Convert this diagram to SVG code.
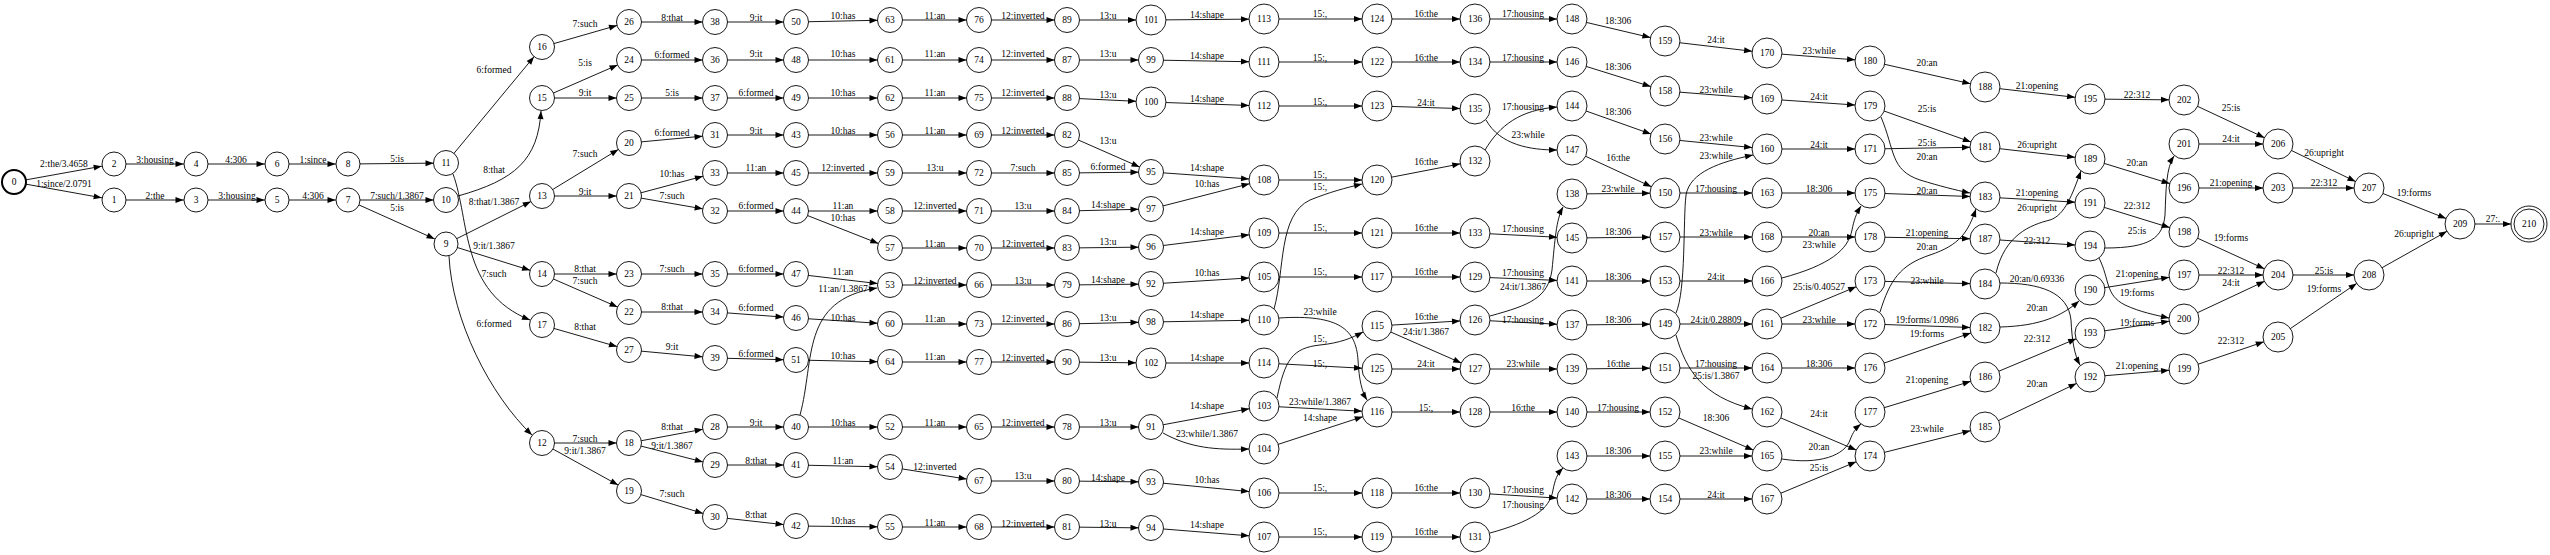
<svg xmlns="http://www.w3.org/2000/svg" width="2550" height="555" viewBox="0 0 2550 555">
<style>
.node circle{fill:#fff;stroke:#000;stroke-width:0.9}
.node text,.edge text{font-family:"Liberation Serif","Times New Roman",serif;font-size:9.5px;text-anchor:middle;fill:#000}
.edge path{fill:none;stroke:#000;stroke-width:0.9}
</style>
<defs>
<marker id="m0" markerUnits="userSpaceOnUse" markerWidth="8" markerHeight="6" refX="8" refY="3" orient="auto" overflow="visible"><path d="M0,0 L8,3 L0,6 z" fill="#000"/></marker>
<marker id="m12" markerUnits="userSpaceOnUse" markerWidth="8" markerHeight="6" refX="20.5" refY="3" orient="auto" overflow="visible"><path d="M0,0 L8,3 L0,6 z" fill="#000"/></marker>
<marker id="m15" markerUnits="userSpaceOnUse" markerWidth="8" markerHeight="6" refX="23" refY="3" orient="auto" overflow="visible"><path d="M0,0 L8,3 L0,6 z" fill="#000"/></marker>
<marker id="m18" markerUnits="userSpaceOnUse" markerWidth="8" markerHeight="6" refX="26" refY="3" orient="auto" overflow="visible"><path d="M0,0 L8,3 L0,6 z" fill="#000"/></marker>
</defs>
<rect width="2550" height="555" fill="#fff"/>
<g id="edges">
<g class="edge"><path d="M14 182 L114 164" marker-end="url(#m12)"/><text x="64" y="167">2:the/3.4658</text></g>
<g class="edge"><path d="M14 182 L114 200" marker-end="url(#m12)"/><text x="64" y="187">1:since/2.0791</text></g>
<g class="edge"><path d="M114 164 L196 164" marker-end="url(#m12)"/><text x="155" y="163">3:housing</text></g>
<g class="edge"><path d="M114 200 L196 200" marker-end="url(#m12)"/><text x="155" y="199">2:the</text></g>
<g class="edge"><path d="M196 164 L277 164" marker-end="url(#m12)"/><text x="236" y="163">4:306</text></g>
<g class="edge"><path d="M196 200 L277 200" marker-end="url(#m12)"/><text x="237" y="199">3:housing</text></g>
<g class="edge"><path d="M277 164 L348 164" marker-end="url(#m12)"/><text x="313" y="163">1:since</text></g>
<g class="edge"><path d="M277 200 L348 200" marker-end="url(#m12)"/><text x="313" y="199">4:306</text></g>
<g class="edge"><path d="M348 164 L446 163" marker-end="url(#m12)"/><text x="397" y="162">5:is</text></g>
<g class="edge"><path d="M348 200 L446 200" marker-end="url(#m12)"/><text x="397" y="199">7:such/1.3867</text></g>
<g class="edge"><path d="M348 200 L446 244" marker-end="url(#m12)"/><text x="397" y="211">5:is</text></g>
<g class="edge"><path d="M446 163 L542 47" marker-end="url(#m12)"/><text x="494" y="73">6:formed</text></g>
<g class="edge"><path d="M458 196 C515 180 538 160 541 111" marker-end="url(#m0)"/><text x="494" y="173">8:that</text></g>
<g class="edge"><path d="M446 244 L542 196" marker-end="url(#m12)"/><text x="494" y="205">8:that/1.3867</text></g>
<g class="edge"><path d="M446 244 L542 274" marker-end="url(#m12)"/><text x="494" y="249">9:it/1.3867</text></g>
<g class="edge"><path d="M453 174 C470 220 460 292 530 320" marker-end="url(#m0)"/><text x="494" y="277">7:such</text></g>
<g class="edge"><path d="M449 256 C452 320 490 395 532 435" marker-end="url(#m0)"/><text x="494" y="327">6:formed</text></g>
<g class="edge"><path d="M542 47 L629 22" marker-end="url(#m12)"/><text x="585" y="27">7:such</text></g>
<g class="edge"><path d="M542 98 L629 60" marker-end="url(#m12)"/><text x="585" y="66">5:is</text></g>
<g class="edge"><path d="M542 98 L629 98" marker-end="url(#m12)"/><text x="585" y="96">9:it</text></g>
<g class="edge"><path d="M542 196 L629 143" marker-end="url(#m12)"/><text x="585" y="157">7:such</text></g>
<g class="edge"><path d="M542 196 L629 196" marker-end="url(#m12)"/><text x="585" y="195">9:it</text></g>
<g class="edge"><path d="M542 274 L629 274" marker-end="url(#m12)"/><text x="585" y="272">8:that</text></g>
<g class="edge"><path d="M542 274 L629 312" marker-end="url(#m12)"/><text x="585" y="284">7:such</text></g>
<g class="edge"><path d="M542 325 L629 350" marker-end="url(#m12)"/><text x="585" y="330">8:that</text></g>
<g class="edge"><path d="M542 443 L629 443" marker-end="url(#m12)"/><text x="585" y="442">7:such</text></g>
<g class="edge"><path d="M542 443 L629 491" marker-end="url(#m12)"/><text x="585" y="454">9:it/1.3867</text></g>
<g class="edge"><path d="M629 22 L715 22" marker-end="url(#m12)"/><text x="672" y="21">8:that</text></g>
<g class="edge"><path d="M629 60 L715 60" marker-end="url(#m12)"/><text x="672" y="58">6:formed</text></g>
<g class="edge"><path d="M629 98 L715 98" marker-end="url(#m12)"/><text x="672" y="96">5:is</text></g>
<g class="edge"><path d="M629 143 L715 135" marker-end="url(#m12)"/><text x="672" y="136">6:formed</text></g>
<g class="edge"><path d="M629 196 L715 173" marker-end="url(#m12)"/><text x="672" y="177">10:has</text></g>
<g class="edge"><path d="M629 196 L715 211" marker-end="url(#m12)"/><text x="672" y="199">7:such</text></g>
<g class="edge"><path d="M629 274 L715 274" marker-end="url(#m12)"/><text x="672" y="272">7:such</text></g>
<g class="edge"><path d="M629 312 L715 312" marker-end="url(#m12)"/><text x="672" y="310">8:that</text></g>
<g class="edge"><path d="M629 350 L715 358" marker-end="url(#m12)"/><text x="672" y="350">9:it</text></g>
<g class="edge"><path d="M629 443 L715 427" marker-end="url(#m12)"/><text x="672" y="430">8:that</text></g>
<g class="edge"><path d="M629 443 L715 465" marker-end="url(#m12)"/><text x="672" y="449">9:it/1.3867</text></g>
<g class="edge"><path d="M629 491 L715 517" marker-end="url(#m12)"/><text x="672" y="497">7:such</text></g>
<g class="edge"><path d="M715 22 L796 22" marker-end="url(#m12)"/><text x="756" y="21">9:it</text></g>
<g class="edge"><path d="M715 60 L796 60" marker-end="url(#m12)"/><text x="756" y="57">9:it</text></g>
<g class="edge"><path d="M715 98 L796 98" marker-end="url(#m12)"/><text x="756" y="96">6:formed</text></g>
<g class="edge"><path d="M715 135 L796 135" marker-end="url(#m12)"/><text x="756" y="134">9:it</text></g>
<g class="edge"><path d="M715 173 L796 173" marker-end="url(#m12)"/><text x="756" y="171">11:an</text></g>
<g class="edge"><path d="M715 211 L796 211" marker-end="url(#m12)"/><text x="756" y="209">6:formed</text></g>
<g class="edge"><path d="M715 274 L796 274" marker-end="url(#m12)"/><text x="756" y="272">6:formed</text></g>
<g class="edge"><path d="M715 312 L796 318" marker-end="url(#m12)"/><text x="756" y="311">6:formed</text></g>
<g class="edge"><path d="M715 358 L796 360" marker-end="url(#m12)"/><text x="756" y="357">6:formed</text></g>
<g class="edge"><path d="M715 427 L796 427" marker-end="url(#m12)"/><text x="756" y="426">9:it</text></g>
<g class="edge"><path d="M715 465 L796 465" marker-end="url(#m12)"/><text x="756" y="464">8:that</text></g>
<g class="edge"><path d="M715 517 L796 526" marker-end="url(#m12)"/><text x="756" y="518">8:that</text></g>
<g class="edge"><path d="M796 22 L890 20" marker-end="url(#m12)"/><text x="843" y="19">10:has</text></g>
<g class="edge"><path d="M796 60 L890 60" marker-end="url(#m12)"/><text x="843" y="57">10:has</text></g>
<g class="edge"><path d="M796 98 L890 98" marker-end="url(#m12)"/><text x="843" y="96">10:has</text></g>
<g class="edge"><path d="M796 135 L890 135" marker-end="url(#m12)"/><text x="843" y="134">10:has</text></g>
<g class="edge"><path d="M796 173 L890 173" marker-end="url(#m12)"/><text x="843" y="171">12:inverted</text></g>
<g class="edge"><path d="M796 211 L890 211" marker-end="url(#m12)"/><text x="843" y="209">11:an</text></g>
<g class="edge"><path d="M796 211 L890 248" marker-end="url(#m12)"/><text x="843" y="221">10:has</text></g>
<g class="edge"><path d="M796 274 L890 285" marker-end="url(#m12)"/><text x="843" y="275">11:an</text></g>
<g class="edge"><path d="M800 415 C815 360 800 300 877 288" marker-end="url(#m0)"/><text x="843" y="292">11:an/1.3867</text></g>
<g class="edge"><path d="M796 318 L890 324" marker-end="url(#m12)"/><text x="843" y="321">10:has</text></g>
<g class="edge"><path d="M796 360 L890 362" marker-end="url(#m12)"/><text x="843" y="359">10:has</text></g>
<g class="edge"><path d="M796 427 L890 427" marker-end="url(#m12)"/><text x="843" y="426">10:has</text></g>
<g class="edge"><path d="M796 465 L890 467" marker-end="url(#m12)"/><text x="843" y="464">11:an</text></g>
<g class="edge"><path d="M796 526 L890 527" marker-end="url(#m12)"/><text x="843" y="524">10:has</text></g>
<g class="edge"><path d="M890 20 L979 20" marker-end="url(#m12)"/><text x="935" y="19">11:an</text></g>
<g class="edge"><path d="M890 60 L979 60" marker-end="url(#m12)"/><text x="935" y="57">11:an</text></g>
<g class="edge"><path d="M890 98 L979 98" marker-end="url(#m12)"/><text x="935" y="96">11:an</text></g>
<g class="edge"><path d="M890 135 L979 135" marker-end="url(#m12)"/><text x="935" y="134">11:an</text></g>
<g class="edge"><path d="M890 173 L979 173" marker-end="url(#m12)"/><text x="935" y="171">13:u</text></g>
<g class="edge"><path d="M890 211 L979 211" marker-end="url(#m12)"/><text x="935" y="209">12:inverted</text></g>
<g class="edge"><path d="M890 248 L979 248" marker-end="url(#m12)"/><text x="935" y="247">11:an</text></g>
<g class="edge"><path d="M890 285 L979 285" marker-end="url(#m12)"/><text x="935" y="284">12:inverted</text></g>
<g class="edge"><path d="M890 324 L979 324" marker-end="url(#m12)"/><text x="935" y="322">11:an</text></g>
<g class="edge"><path d="M890 362 L979 362" marker-end="url(#m12)"/><text x="935" y="360">11:an</text></g>
<g class="edge"><path d="M890 427 L979 427" marker-end="url(#m12)"/><text x="935" y="426">11:an</text></g>
<g class="edge"><path d="M890 467 L979 481" marker-end="url(#m12)"/><text x="935" y="470">12:inverted</text></g>
<g class="edge"><path d="M890 527 L979 527" marker-end="url(#m12)"/><text x="935" y="526">11:an</text></g>
<g class="edge"><path d="M979 20 L1067 20" marker-end="url(#m12)"/><text x="1023" y="19">12:inverted</text></g>
<g class="edge"><path d="M979 60 L1067 60" marker-end="url(#m12)"/><text x="1023" y="57">12:inverted</text></g>
<g class="edge"><path d="M979 98 L1067 98" marker-end="url(#m12)"/><text x="1023" y="96">12:inverted</text></g>
<g class="edge"><path d="M979 135 L1067 135" marker-end="url(#m12)"/><text x="1023" y="134">12:inverted</text></g>
<g class="edge"><path d="M979 173 L1067 173" marker-end="url(#m12)"/><text x="1023" y="171">7:such</text></g>
<g class="edge"><path d="M979 211 L1067 211" marker-end="url(#m12)"/><text x="1023" y="209">13:u</text></g>
<g class="edge"><path d="M979 248 L1067 248" marker-end="url(#m12)"/><text x="1023" y="247">12:inverted</text></g>
<g class="edge"><path d="M979 285 L1067 285" marker-end="url(#m12)"/><text x="1023" y="284">13:u</text></g>
<g class="edge"><path d="M979 324 L1067 324" marker-end="url(#m12)"/><text x="1023" y="322">12:inverted</text></g>
<g class="edge"><path d="M979 362 L1067 362" marker-end="url(#m12)"/><text x="1023" y="361">12:inverted</text></g>
<g class="edge"><path d="M979 427 L1067 427" marker-end="url(#m12)"/><text x="1023" y="426">12:inverted</text></g>
<g class="edge"><path d="M979 481 L1067 481" marker-end="url(#m12)"/><text x="1023" y="479">13:u</text></g>
<g class="edge"><path d="M979 527 L1067 527" marker-end="url(#m12)"/><text x="1023" y="527">12:inverted</text></g>
<g class="edge"><path d="M1067 20 L1151 20" marker-end="url(#m15)"/><text x="1108" y="19">13:u</text></g>
<g class="edge"><path d="M1067 60 L1151 60" marker-end="url(#m12)"/><text x="1108" y="57">13:u</text></g>
<g class="edge"><path d="M1067 98 L1151 102" marker-end="url(#m15)"/><text x="1108" y="98">13:u</text></g>
<g class="edge"><path d="M1067 135 L1151 172" marker-end="url(#m12)"/><text x="1108" y="144">13:u</text></g>
<g class="edge"><path d="M1067 173 L1151 172" marker-end="url(#m12)"/><text x="1108" y="170">6:formed</text></g>
<g class="edge"><path d="M1067 211 L1151 209" marker-end="url(#m12)"/><text x="1108" y="208">14:shape</text></g>
<g class="edge"><path d="M1067 248 L1151 247" marker-end="url(#m12)"/><text x="1108" y="245">13:u</text></g>
<g class="edge"><path d="M1067 285 L1151 284" marker-end="url(#m12)"/><text x="1108" y="283">14:shape</text></g>
<g class="edge"><path d="M1067 324 L1151 322" marker-end="url(#m12)"/><text x="1108" y="321">13:u</text></g>
<g class="edge"><path d="M1067 362 L1151 363" marker-end="url(#m15)"/><text x="1108" y="361">13:u</text></g>
<g class="edge"><path d="M1067 427 L1151 427" marker-end="url(#m12)"/><text x="1108" y="426">13:u</text></g>
<g class="edge"><path d="M1067 481 L1151 482" marker-end="url(#m12)"/><text x="1108" y="481">14:shape</text></g>
<g class="edge"><path d="M1067 527 L1151 528" marker-end="url(#m12)"/><text x="1108" y="527">13:u</text></g>
<g class="edge"><path d="M1151 20 L1264 19" marker-end="url(#m15)"/><text x="1207" y="18">14:shape</text></g>
<g class="edge"><path d="M1151 60 L1264 62" marker-end="url(#m15)"/><text x="1207" y="59">14:shape</text></g>
<g class="edge"><path d="M1151 102 L1264 106" marker-end="url(#m15)"/><text x="1207" y="102">14:shape</text></g>
<g class="edge"><path d="M1151 172 L1264 180" marker-end="url(#m15)"/><text x="1207" y="171">14:shape</text></g>
<g class="edge"><path d="M1151 209 L1264 180" marker-end="url(#m15)"/><text x="1207" y="187">10:has</text></g>
<g class="edge"><path d="M1151 247 L1264 233" marker-end="url(#m15)"/><text x="1207" y="235">14:shape</text></g>
<g class="edge"><path d="M1151 284 L1264 277" marker-end="url(#m15)"/><text x="1207" y="276">10:has</text></g>
<g class="edge"><path d="M1151 322 L1264 320" marker-end="url(#m15)"/><text x="1207" y="318">14:shape</text></g>
<g class="edge"><path d="M1151 363 L1264 363" marker-end="url(#m15)"/><text x="1207" y="361">14:shape</text></g>
<g class="edge"><path d="M1151 427 L1264 406" marker-end="url(#m15)"/><text x="1207" y="409">14:shape</text></g>
<g class="edge"><path d="M1163 433 C1190 448 1215 450 1249 449" marker-end="url(#m0)"/><text x="1207" y="437">23:while/1.3867</text></g>
<g class="edge"><path d="M1151 482 L1264 493" marker-end="url(#m15)"/><text x="1207" y="483">10:has</text></g>
<g class="edge"><path d="M1151 528 L1264 537" marker-end="url(#m15)"/><text x="1207" y="528">14:shape</text></g>
<g class="edge"><path d="M1264 19 L1377 19" marker-end="url(#m15)"/><text x="1320" y="17">15:,</text></g>
<g class="edge"><path d="M1264 62 L1377 62" marker-end="url(#m15)"/><text x="1320" y="61">15:,</text></g>
<g class="edge"><path d="M1264 106 L1377 106" marker-end="url(#m15)"/><text x="1320" y="105">15:,</text></g>
<g class="edge"><path d="M1264 180 L1377 180" marker-end="url(#m15)"/><text x="1320" y="178">15:,</text></g>
<g class="edge"><path d="M1274 309 C1285 270 1278 215 1310 200 C1330 192 1345 188 1362 184" marker-end="url(#m0)"/><text x="1320" y="190">15:,</text></g>
<g class="edge"><path d="M1264 233 L1377 233" marker-end="url(#m15)"/><text x="1320" y="231">15:,</text></g>
<g class="edge"><path d="M1264 277 L1377 277" marker-end="url(#m15)"/><text x="1320" y="275">15:,</text></g>
<g class="edge"><path d="M1279 318 C1340 314 1356 330 1358 360 C1359 380 1362 392 1367 400" marker-end="url(#m0)"/><text x="1320" y="315">23:while</text></g>
<g class="edge"><path d="M1277 398 C1285 360 1292 348 1320 345 C1340 343 1352 338 1363 332" marker-end="url(#m0)"/><text x="1320" y="342">15:,</text></g>
<g class="edge"><path d="M1264 363 L1377 369" marker-end="url(#m15)"/><text x="1320" y="367">15:,</text></g>
<g class="edge"><path d="M1264 406 L1377 412" marker-end="url(#m15)"/><text x="1320" y="405">23:while/1.3867</text></g>
<g class="edge"><path d="M1264 449 L1377 412" marker-end="url(#m15)"/><text x="1320" y="421">14:shape</text></g>
<g class="edge"><path d="M1264 493 L1377 493" marker-end="url(#m15)"/><text x="1320" y="491">15:,</text></g>
<g class="edge"><path d="M1264 537 L1377 537" marker-end="url(#m15)"/><text x="1320" y="535">15:,</text></g>
<g class="edge"><path d="M1377 19 L1475 19" marker-end="url(#m15)"/><text x="1426" y="17">16:the</text></g>
<g class="edge"><path d="M1377 62 L1475 62" marker-end="url(#m15)"/><text x="1426" y="61">16:the</text></g>
<g class="edge"><path d="M1377 106 L1475 109" marker-end="url(#m15)"/><text x="1426" y="106">24:it</text></g>
<g class="edge"><path d="M1377 180 L1475 161" marker-end="url(#m15)"/><text x="1426" y="165">16:the</text></g>
<g class="edge"><path d="M1377 233 L1475 233" marker-end="url(#m15)"/><text x="1426" y="231">16:the</text></g>
<g class="edge"><path d="M1377 277 L1475 277" marker-end="url(#m15)"/><text x="1426" y="275">16:the</text></g>
<g class="edge"><path d="M1377 326 L1475 320" marker-end="url(#m15)"/><text x="1426" y="320">16:the</text></g>
<g class="edge"><path d="M1377 326 L1475 369" marker-end="url(#m15)"/><text x="1426" y="335">24:it/1.3867</text></g>
<g class="edge"><path d="M1377 369 L1475 369" marker-end="url(#m15)"/><text x="1426" y="367">24:it</text></g>
<g class="edge"><path d="M1377 412 L1475 412" marker-end="url(#m15)"/><text x="1426" y="411">15:,</text></g>
<g class="edge"><path d="M1377 493 L1475 493" marker-end="url(#m15)"/><text x="1426" y="491">16:the</text></g>
<g class="edge"><path d="M1377 537 L1475 537" marker-end="url(#m15)"/><text x="1426" y="535">16:the</text></g>
<g class="edge"><path d="M1475 19 L1572 19" marker-end="url(#m15)"/><text x="1523" y="17">17:housing</text></g>
<g class="edge"><path d="M1475 62 L1572 62" marker-end="url(#m15)"/><text x="1523" y="61">17:housing</text></g>
<g class="edge"><path d="M1485 150 C1500 125 1520 110 1557 107" marker-end="url(#m0)"/><text x="1523" y="110">17:housing</text></g>
<g class="edge"><path d="M1486 120 C1500 145 1530 150 1557 150" marker-end="url(#m0)"/><text x="1528" y="138">23:while</text></g>
<g class="edge"><path d="M1475 233 L1572 238" marker-end="url(#m15)"/><text x="1523" y="232">17:housing</text></g>
<g class="edge"><path d="M1475 277 L1572 281" marker-end="url(#m15)"/><text x="1523" y="276">17:housing</text></g>
<g class="edge"><path d="M1490 316 C1530 305 1548 298 1552 270 C1555 240 1556 220 1563 207" marker-end="url(#m0)"/><text x="1523" y="290">24:it/1.3867</text></g>
<g class="edge"><path d="M1475 320 L1572 325" marker-end="url(#m15)"/><text x="1523" y="323">17:housing</text></g>
<g class="edge"><path d="M1475 369 L1572 369" marker-end="url(#m15)"/><text x="1523" y="367">23:while</text></g>
<g class="edge"><path d="M1475 412 L1572 412" marker-end="url(#m15)"/><text x="1523" y="411">16:the</text></g>
<g class="edge"><path d="M1475 493 L1572 499" marker-end="url(#m15)"/><text x="1523" y="493">17:housing</text></g>
<g class="edge"><path d="M1490 533 C1530 522 1550 510 1553 490 C1555 480 1557 474 1563 468" marker-end="url(#m0)"/><text x="1523" y="508">17:housing</text></g>
<g class="edge"><path d="M1572 19 L1665 41" marker-end="url(#m15)"/><text x="1618" y="24">18:306</text></g>
<g class="edge"><path d="M1572 62 L1665 91" marker-end="url(#m15)"/><text x="1618" y="70">18:306</text></g>
<g class="edge"><path d="M1572 106 L1665 139" marker-end="url(#m15)"/><text x="1618" y="115">18:306</text></g>
<g class="edge"><path d="M1572 150 L1665 193" marker-end="url(#m15)"/><text x="1618" y="161">16:the</text></g>
<g class="edge"><path d="M1572 194 L1665 193" marker-end="url(#m15)"/><text x="1618" y="192">23:while</text></g>
<g class="edge"><path d="M1572 238 L1665 237" marker-end="url(#m15)"/><text x="1618" y="235">18:306</text></g>
<g class="edge"><path d="M1572 281 L1665 281" marker-end="url(#m15)"/><text x="1618" y="280">18:306</text></g>
<g class="edge"><path d="M1572 325 L1665 324" marker-end="url(#m15)"/><text x="1618" y="323">18:306</text></g>
<g class="edge"><path d="M1572 369 L1665 368" marker-end="url(#m15)"/><text x="1618" y="367">16:the</text></g>
<g class="edge"><path d="M1572 412 L1665 412" marker-end="url(#m15)"/><text x="1618" y="411">17:housing</text></g>
<g class="edge"><path d="M1572 456 L1665 456" marker-end="url(#m15)"/><text x="1618" y="454">18:306</text></g>
<g class="edge"><path d="M1572 499 L1665 499" marker-end="url(#m15)"/><text x="1618" y="498">18:306</text></g>
<g class="edge"><path d="M1665 41 L1767 53" marker-end="url(#m15)"/><text x="1716" y="43">24:it</text></g>
<g class="edge"><path d="M1665 91 L1767 99" marker-end="url(#m15)"/><text x="1716" y="93">23:while</text></g>
<g class="edge"><path d="M1665 139 L1767 149" marker-end="url(#m15)"/><text x="1716" y="141">23:while</text></g>
<g class="edge"><path d="M1676 313 C1686 290 1683 220 1686 195 C1690 172 1720 162 1753 155" marker-end="url(#m0)"/><text x="1716" y="159">23:while</text></g>
<g class="edge"><path d="M1665 193 L1767 193" marker-end="url(#m15)"/><text x="1716" y="192">17:housing</text></g>
<g class="edge"><path d="M1665 237 L1767 237" marker-end="url(#m15)"/><text x="1716" y="236">23:while</text></g>
<g class="edge"><path d="M1665 281 L1767 281" marker-end="url(#m15)"/><text x="1716" y="280">24:it</text></g>
<g class="edge"><path d="M1665 324 L1767 324" marker-end="url(#m15)"/><text x="1716" y="323">24:it/0.28809</text></g>
<g class="edge"><path d="M1665 368 L1767 368" marker-end="url(#m15)"/><text x="1716" y="367">17:housing</text></g>
<g class="edge"><path d="M1676 335 C1686 370 1702 396 1752 409" marker-end="url(#m0)"/><text x="1716" y="379">25:is/1.3867</text></g>
<g class="edge"><path d="M1665 412 L1767 456" marker-end="url(#m15)"/><text x="1716" y="421">18:306</text></g>
<g class="edge"><path d="M1665 456 L1767 456" marker-end="url(#m15)"/><text x="1716" y="454">23:while</text></g>
<g class="edge"><path d="M1665 499 L1767 499" marker-end="url(#m15)"/><text x="1716" y="498">24:it</text></g>
<g class="edge"><path d="M1767 53 L1870 61" marker-end="url(#m15)"/><text x="1819" y="54">23:while</text></g>
<g class="edge"><path d="M1767 99 L1870 106" marker-end="url(#m15)"/><text x="1819" y="100">24:it</text></g>
<g class="edge"><path d="M1767 149 L1870 149" marker-end="url(#m15)"/><text x="1819" y="148">24:it</text></g>
<g class="edge"><path d="M1767 193 L1870 193" marker-end="url(#m15)"/><text x="1819" y="192">18:306</text></g>
<g class="edge"><path d="M1767 237 L1870 237" marker-end="url(#m15)"/><text x="1819" y="236">20:an</text></g>
<g class="edge"><path d="M1782 278 C1830 265 1848 250 1852 230 C1854 220 1856 214 1861 206" marker-end="url(#m0)"/><text x="1819" y="248">23:while</text></g>
<g class="edge"><path d="M1767 324 L1870 281" marker-end="url(#m15)"/><text x="1819" y="290">25:is/0.40527</text></g>
<g class="edge"><path d="M1767 324 L1870 324" marker-end="url(#m15)"/><text x="1819" y="323">23:while</text></g>
<g class="edge"><path d="M1767 368 L1870 368" marker-end="url(#m15)"/><text x="1819" y="367">18:306</text></g>
<g class="edge"><path d="M1767 412 L1870 456" marker-end="url(#m15)"/><text x="1819" y="417">24:it</text></g>
<g class="edge"><path d="M1782 459 C1820 465 1845 455 1850 440 C1853 432 1856 428 1861 424" marker-end="url(#m0)"/><text x="1819" y="450">20:an</text></g>
<g class="edge"><path d="M1767 499 L1870 456" marker-end="url(#m15)"/><text x="1819" y="471">25:is</text></g>
<g class="edge"><path d="M1870 61 L1985 87" marker-end="url(#m15)"/><text x="1927" y="66">20:an</text></g>
<g class="edge"><path d="M1870 106 L1985 147" marker-end="url(#m15)"/><text x="1927" y="112">25:is</text></g>
<g class="edge"><path d="M1870 149 L1985 147" marker-end="url(#m15)"/><text x="1927" y="146">25:is</text></g>
<g class="edge"><path d="M1881 117 C1895 150 1890 170 1920 180 C1940 186 1955 190 1970 193" marker-end="url(#m0)"/><text x="1927" y="160">20:an</text></g>
<g class="edge"><path d="M1870 193 L1985 197" marker-end="url(#m15)"/><text x="1927" y="194">20:an</text></g>
<g class="edge"><path d="M1870 237 L1985 239" marker-end="url(#m15)"/><text x="1927" y="236">21:opening</text></g>
<g class="edge"><path d="M1880 312 C1890 280 1900 265 1930 255 C1960 245 1968 232 1976 209" marker-end="url(#m0)"/><text x="1927" y="250">20:an</text></g>
<g class="edge"><path d="M1870 281 L1985 284" marker-end="url(#m15)"/><text x="1927" y="284">23:while</text></g>
<g class="edge"><path d="M1870 324 L1985 328" marker-end="url(#m15)"/><text x="1927" y="323">19:forms/1.0986</text></g>
<g class="edge"><path d="M1870 368 L1985 328" marker-end="url(#m15)"/><text x="1927" y="337">19:forms</text></g>
<g class="edge"><path d="M1870 412 L1985 377" marker-end="url(#m15)"/><text x="1927" y="383">21:opening</text></g>
<g class="edge"><path d="M1870 456 L1985 427" marker-end="url(#m15)"/><text x="1927" y="432">23:while</text></g>
<g class="edge"><path d="M1985 87 L2090 99" marker-end="url(#m15)"/><text x="2037" y="89">21:opening</text></g>
<g class="edge"><path d="M1985 147 L2090 159" marker-end="url(#m15)"/><text x="2037" y="148">26:upright</text></g>
<g class="edge"><path d="M1985 197 L2090 203" marker-end="url(#m15)"/><text x="2037" y="196">21:opening</text></g>
<g class="edge"><path d="M1996 273 C2005 235 2030 225 2050 220 C2065 215 2072 195 2081 171" marker-end="url(#m0)"/><text x="2037" y="211">26:upright</text></g>
<g class="edge"><path d="M1985 239 L2090 246" marker-end="url(#m15)"/><text x="2037" y="244">22:312</text></g>
<g class="edge"><path d="M2000 283 C2040 283 2068 292 2071 320 C2072 340 2074 354 2080 365" marker-end="url(#m0)"/><text x="2037" y="282">20:an/0.69336</text></g>
<g class="edge"><path d="M2000 327 C2040 326 2062 316 2079 301" marker-end="url(#m0)"/><text x="2037" y="311">20:an</text></g>
<g class="edge"><path d="M1985 377 L2090 333" marker-end="url(#m15)"/><text x="2037" y="342">22:312</text></g>
<g class="edge"><path d="M1985 427 L2090 377" marker-end="url(#m15)"/><text x="2037" y="387">20:an</text></g>
<g class="edge"><path d="M2090 99 L2184 100" marker-end="url(#m15)"/><text x="2137" y="98">22:312</text></g>
<g class="edge"><path d="M2090 159 L2184 188" marker-end="url(#m15)"/><text x="2137" y="166">20:an</text></g>
<g class="edge"><path d="M2090 203 L2184 232" marker-end="url(#m15)"/><text x="2137" y="209">22:312</text></g>
<g class="edge"><path d="M2105 248 C2150 248 2163 238 2165 215 C2166 190 2166 168 2174 156" marker-end="url(#m0)"/><text x="2137" y="234">25:is</text></g>
<g class="edge"><path d="M2090 290 L2184 275" marker-end="url(#m15)"/><text x="2137" y="277">21:opening</text></g>
<g class="edge"><path d="M2099 258 C2110 280 2105 295 2125 305 C2140 312 2155 315 2169 318" marker-end="url(#m0)"/><text x="2137" y="296">19:forms</text></g>
<g class="edge"><path d="M2090 333 L2184 319" marker-end="url(#m15)"/><text x="2137" y="326">19:forms</text></g>
<g class="edge"><path d="M2090 377 L2184 369" marker-end="url(#m15)"/><text x="2137" y="369">21:opening</text></g>
<g class="edge"><path d="M2184 100 L2278 144" marker-end="url(#m15)"/><text x="2231" y="111">25:is</text></g>
<g class="edge"><path d="M2184 144 L2278 144" marker-end="url(#m15)"/><text x="2231" y="142">24:it</text></g>
<g class="edge"><path d="M2184 188 L2278 188" marker-end="url(#m15)"/><text x="2231" y="186">21:opening</text></g>
<g class="edge"><path d="M2184 232 L2278 275" marker-end="url(#m15)"/><text x="2231" y="241">19:forms</text></g>
<g class="edge"><path d="M2184 275 L2278 275" marker-end="url(#m15)"/><text x="2231" y="274">22:312</text></g>
<g class="edge"><path d="M2184 319 L2278 275" marker-end="url(#m15)"/><text x="2231" y="286">24:it</text></g>
<g class="edge"><path d="M2184 369 L2278 337" marker-end="url(#m15)"/><text x="2231" y="344">22:312</text></g>
<g class="edge"><path d="M2278 144 L2369 188" marker-end="url(#m15)"/><text x="2324" y="156">26:upright</text></g>
<g class="edge"><path d="M2278 188 L2369 188" marker-end="url(#m15)"/><text x="2324" y="186">22:312</text></g>
<g class="edge"><path d="M2278 275 L2369 275" marker-end="url(#m15)"/><text x="2324" y="274">25:is</text></g>
<g class="edge"><path d="M2278 337 L2369 275" marker-end="url(#m15)"/><text x="2324" y="292">19:forms</text></g>
<g class="edge"><path d="M2369 188 L2460 224" marker-end="url(#m15)"/><text x="2414" y="196">19:forms</text></g>
<g class="edge"><path d="M2369 275 L2460 224" marker-end="url(#m15)"/><text x="2414" y="237">26:upright</text></g>
<g class="edge"><path d="M2460 224 L2529 224" marker-end="url(#m18)"/><text x="2493" y="222">27:.</text></g>
</g>
<g id="nodes">
<g id="n0" class="node"><circle cx="14" cy="182" r="12" style="stroke-width:2"/><text x="14" y="185.3">0</text></g>
<g id="n1" class="node"><circle cx="114" cy="200" r="12"/><text x="114" y="203.3">1</text></g>
<g id="n2" class="node"><circle cx="114" cy="164" r="12"/><text x="114" y="167.3">2</text></g>
<g id="n3" class="node"><circle cx="196" cy="200" r="12"/><text x="196" y="203.3">3</text></g>
<g id="n4" class="node"><circle cx="196" cy="164" r="12"/><text x="196" y="167.3">4</text></g>
<g id="n5" class="node"><circle cx="277" cy="200" r="12"/><text x="277" y="203.3">5</text></g>
<g id="n6" class="node"><circle cx="277" cy="164" r="12"/><text x="277" y="167.3">6</text></g>
<g id="n7" class="node"><circle cx="348" cy="200" r="12"/><text x="348" y="203.3">7</text></g>
<g id="n8" class="node"><circle cx="348" cy="164" r="12"/><text x="348" y="167.3">8</text></g>
<g id="n9" class="node"><circle cx="446" cy="244" r="12"/><text x="446" y="247.3">9</text></g>
<g id="n10" class="node"><circle cx="446" cy="200" r="12.5"/><text x="446" y="203.3">10</text></g>
<g id="n11" class="node"><circle cx="446" cy="163" r="12.5"/><text x="446" y="166.3">11</text></g>
<g id="n12" class="node"><circle cx="542" cy="443" r="12.5"/><text x="542" y="446.3">12</text></g>
<g id="n13" class="node"><circle cx="542" cy="196" r="12.5"/><text x="542" y="199.3">13</text></g>
<g id="n14" class="node"><circle cx="542" cy="274" r="12.5"/><text x="542" y="277.3">14</text></g>
<g id="n15" class="node"><circle cx="542" cy="98" r="12.5"/><text x="542" y="101.3">15</text></g>
<g id="n16" class="node"><circle cx="542" cy="47" r="12.5"/><text x="542" y="50.3">16</text></g>
<g id="n17" class="node"><circle cx="542" cy="325" r="12.5"/><text x="542" y="328.3">17</text></g>
<g id="n18" class="node"><circle cx="629" cy="443" r="12.5"/><text x="629" y="446.3">18</text></g>
<g id="n19" class="node"><circle cx="629" cy="491" r="12.5"/><text x="629" y="494.3">19</text></g>
<g id="n20" class="node"><circle cx="629" cy="143" r="12.5"/><text x="629" y="146.3">20</text></g>
<g id="n21" class="node"><circle cx="629" cy="196" r="12.5"/><text x="629" y="199.3">21</text></g>
<g id="n22" class="node"><circle cx="629" cy="312" r="12.5"/><text x="629" y="315.3">22</text></g>
<g id="n23" class="node"><circle cx="629" cy="274" r="12.5"/><text x="629" y="277.3">23</text></g>
<g id="n24" class="node"><circle cx="629" cy="60" r="12.5"/><text x="629" y="63.3">24</text></g>
<g id="n25" class="node"><circle cx="629" cy="98" r="12.5"/><text x="629" y="101.3">25</text></g>
<g id="n26" class="node"><circle cx="629" cy="22" r="12.5"/><text x="629" y="25.3">26</text></g>
<g id="n27" class="node"><circle cx="629" cy="350" r="12.5"/><text x="629" y="353.3">27</text></g>
<g id="n28" class="node"><circle cx="715" cy="427" r="12.5"/><text x="715" y="430.3">28</text></g>
<g id="n29" class="node"><circle cx="715" cy="465" r="12.5"/><text x="715" y="468.3">29</text></g>
<g id="n30" class="node"><circle cx="715" cy="517" r="12.5"/><text x="715" y="520.3">30</text></g>
<g id="n31" class="node"><circle cx="715" cy="135" r="12.5"/><text x="715" y="138.3">31</text></g>
<g id="n32" class="node"><circle cx="715" cy="211" r="12.5"/><text x="715" y="214.3">32</text></g>
<g id="n33" class="node"><circle cx="715" cy="173" r="12.5"/><text x="715" y="176.3">33</text></g>
<g id="n34" class="node"><circle cx="715" cy="312" r="12.5"/><text x="715" y="315.3">34</text></g>
<g id="n35" class="node"><circle cx="715" cy="274" r="12.5"/><text x="715" y="277.3">35</text></g>
<g id="n36" class="node"><circle cx="715" cy="60" r="12.5"/><text x="715" y="63.3">36</text></g>
<g id="n37" class="node"><circle cx="715" cy="98" r="12.5"/><text x="715" y="101.3">37</text></g>
<g id="n38" class="node"><circle cx="715" cy="22" r="12.5"/><text x="715" y="25.3">38</text></g>
<g id="n39" class="node"><circle cx="715" cy="358" r="12.5"/><text x="715" y="361.3">39</text></g>
<g id="n40" class="node"><circle cx="796" cy="427" r="12.5"/><text x="796" y="430.3">40</text></g>
<g id="n41" class="node"><circle cx="796" cy="465" r="12.5"/><text x="796" y="468.3">41</text></g>
<g id="n42" class="node"><circle cx="796" cy="526" r="12.5"/><text x="796" y="529.3">42</text></g>
<g id="n43" class="node"><circle cx="796" cy="135" r="12.5"/><text x="796" y="138.3">43</text></g>
<g id="n44" class="node"><circle cx="796" cy="211" r="12.5"/><text x="796" y="214.3">44</text></g>
<g id="n45" class="node"><circle cx="796" cy="173" r="12.5"/><text x="796" y="176.3">45</text></g>
<g id="n46" class="node"><circle cx="796" cy="318" r="12.5"/><text x="796" y="321.3">46</text></g>
<g id="n47" class="node"><circle cx="796" cy="274" r="12.5"/><text x="796" y="277.3">47</text></g>
<g id="n48" class="node"><circle cx="796" cy="60" r="12.5"/><text x="796" y="63.3">48</text></g>
<g id="n49" class="node"><circle cx="796" cy="98" r="12.5"/><text x="796" y="101.3">49</text></g>
<g id="n50" class="node"><circle cx="796" cy="22" r="12.5"/><text x="796" y="25.3">50</text></g>
<g id="n51" class="node"><circle cx="796" cy="360" r="12.5"/><text x="796" y="363.3">51</text></g>
<g id="n52" class="node"><circle cx="890" cy="427" r="12.5"/><text x="890" y="430.3">52</text></g>
<g id="n53" class="node"><circle cx="890" cy="285" r="12.5"/><text x="890" y="288.3">53</text></g>
<g id="n54" class="node"><circle cx="890" cy="467" r="12.5"/><text x="890" y="470.3">54</text></g>
<g id="n55" class="node"><circle cx="890" cy="527" r="12.5"/><text x="890" y="530.3">55</text></g>
<g id="n56" class="node"><circle cx="890" cy="135" r="12.5"/><text x="890" y="138.3">56</text></g>
<g id="n57" class="node"><circle cx="890" cy="248" r="12.5"/><text x="890" y="251.3">57</text></g>
<g id="n58" class="node"><circle cx="890" cy="211" r="12.5"/><text x="890" y="214.3">58</text></g>
<g id="n59" class="node"><circle cx="890" cy="173" r="12.5"/><text x="890" y="176.3">59</text></g>
<g id="n60" class="node"><circle cx="890" cy="324" r="12.5"/><text x="890" y="327.3">60</text></g>
<g id="n61" class="node"><circle cx="890" cy="60" r="12.5"/><text x="890" y="63.3">61</text></g>
<g id="n62" class="node"><circle cx="890" cy="98" r="12.5"/><text x="890" y="101.3">62</text></g>
<g id="n63" class="node"><circle cx="890" cy="20" r="12.5"/><text x="890" y="23.3">63</text></g>
<g id="n64" class="node"><circle cx="890" cy="362" r="12.5"/><text x="890" y="365.3">64</text></g>
<g id="n65" class="node"><circle cx="979" cy="427" r="12.5"/><text x="979" y="430.3">65</text></g>
<g id="n66" class="node"><circle cx="979" cy="285" r="12.5"/><text x="979" y="288.3">66</text></g>
<g id="n67" class="node"><circle cx="979" cy="481" r="12.5"/><text x="979" y="484.3">67</text></g>
<g id="n68" class="node"><circle cx="979" cy="527" r="12.5"/><text x="979" y="530.3">68</text></g>
<g id="n69" class="node"><circle cx="979" cy="135" r="12.5"/><text x="979" y="138.3">69</text></g>
<g id="n70" class="node"><circle cx="979" cy="248" r="12.5"/><text x="979" y="251.3">70</text></g>
<g id="n71" class="node"><circle cx="979" cy="211" r="12.5"/><text x="979" y="214.3">71</text></g>
<g id="n72" class="node"><circle cx="979" cy="173" r="12.5"/><text x="979" y="176.3">72</text></g>
<g id="n73" class="node"><circle cx="979" cy="324" r="12.5"/><text x="979" y="327.3">73</text></g>
<g id="n74" class="node"><circle cx="979" cy="60" r="12.5"/><text x="979" y="63.3">74</text></g>
<g id="n75" class="node"><circle cx="979" cy="98" r="12.5"/><text x="979" y="101.3">75</text></g>
<g id="n76" class="node"><circle cx="979" cy="20" r="12.5"/><text x="979" y="23.3">76</text></g>
<g id="n77" class="node"><circle cx="979" cy="362" r="12.5"/><text x="979" y="365.3">77</text></g>
<g id="n78" class="node"><circle cx="1067" cy="427" r="12.5"/><text x="1067" y="430.3">78</text></g>
<g id="n79" class="node"><circle cx="1067" cy="285" r="12.5"/><text x="1067" y="288.3">79</text></g>
<g id="n80" class="node"><circle cx="1067" cy="481" r="12.5"/><text x="1067" y="484.3">80</text></g>
<g id="n81" class="node"><circle cx="1067" cy="527" r="12.5"/><text x="1067" y="530.3">81</text></g>
<g id="n82" class="node"><circle cx="1067" cy="135" r="12.5"/><text x="1067" y="138.3">82</text></g>
<g id="n83" class="node"><circle cx="1067" cy="248" r="12.5"/><text x="1067" y="251.3">83</text></g>
<g id="n84" class="node"><circle cx="1067" cy="211" r="12.5"/><text x="1067" y="214.3">84</text></g>
<g id="n85" class="node"><circle cx="1067" cy="173" r="12.5"/><text x="1067" y="176.3">85</text></g>
<g id="n86" class="node"><circle cx="1067" cy="324" r="12.5"/><text x="1067" y="327.3">86</text></g>
<g id="n87" class="node"><circle cx="1067" cy="60" r="12.5"/><text x="1067" y="63.3">87</text></g>
<g id="n88" class="node"><circle cx="1067" cy="98" r="12.5"/><text x="1067" y="101.3">88</text></g>
<g id="n89" class="node"><circle cx="1067" cy="20" r="12.5"/><text x="1067" y="23.3">89</text></g>
<g id="n90" class="node"><circle cx="1067" cy="362" r="12.5"/><text x="1067" y="365.3">90</text></g>
<g id="n91" class="node"><circle cx="1151" cy="427" r="12.5"/><text x="1151" y="430.3">91</text></g>
<g id="n92" class="node"><circle cx="1151" cy="284" r="12.5"/><text x="1151" y="287.3">92</text></g>
<g id="n93" class="node"><circle cx="1151" cy="482" r="12.5"/><text x="1151" y="485.3">93</text></g>
<g id="n94" class="node"><circle cx="1151" cy="528" r="12.5"/><text x="1151" y="531.3">94</text></g>
<g id="n95" class="node"><circle cx="1151" cy="172" r="12.5"/><text x="1151" y="175.3">95</text></g>
<g id="n96" class="node"><circle cx="1151" cy="247" r="12.5"/><text x="1151" y="250.3">96</text></g>
<g id="n97" class="node"><circle cx="1151" cy="209" r="12.5"/><text x="1151" y="212.3">97</text></g>
<g id="n98" class="node"><circle cx="1151" cy="322" r="12.5"/><text x="1151" y="325.3">98</text></g>
<g id="n99" class="node"><circle cx="1151" cy="60" r="12.5"/><text x="1151" y="63.3">99</text></g>
<g id="n100" class="node"><circle cx="1151" cy="102" r="15"/><text x="1151" y="105.3">100</text></g>
<g id="n101" class="node"><circle cx="1151" cy="20" r="15"/><text x="1151" y="23.3">101</text></g>
<g id="n102" class="node"><circle cx="1151" cy="363" r="15"/><text x="1151" y="366.3">102</text></g>
<g id="n103" class="node"><circle cx="1264" cy="406" r="15"/><text x="1264" y="409.3">103</text></g>
<g id="n104" class="node"><circle cx="1264" cy="449" r="15"/><text x="1264" y="452.3">104</text></g>
<g id="n105" class="node"><circle cx="1264" cy="277" r="15"/><text x="1264" y="280.3">105</text></g>
<g id="n106" class="node"><circle cx="1264" cy="493" r="15"/><text x="1264" y="496.3">106</text></g>
<g id="n107" class="node"><circle cx="1264" cy="537" r="15"/><text x="1264" y="540.3">107</text></g>
<g id="n108" class="node"><circle cx="1264" cy="180" r="15"/><text x="1264" y="183.3">108</text></g>
<g id="n109" class="node"><circle cx="1264" cy="233" r="15"/><text x="1264" y="236.3">109</text></g>
<g id="n110" class="node"><circle cx="1264" cy="320" r="15"/><text x="1264" y="323.3">110</text></g>
<g id="n111" class="node"><circle cx="1264" cy="62" r="15"/><text x="1264" y="65.3">111</text></g>
<g id="n112" class="node"><circle cx="1264" cy="106" r="15"/><text x="1264" y="109.3">112</text></g>
<g id="n113" class="node"><circle cx="1264" cy="19" r="15"/><text x="1264" y="22.3">113</text></g>
<g id="n114" class="node"><circle cx="1264" cy="363" r="15"/><text x="1264" y="366.3">114</text></g>
<g id="n115" class="node"><circle cx="1377" cy="326" r="15"/><text x="1377" y="329.3">115</text></g>
<g id="n116" class="node"><circle cx="1377" cy="412" r="15"/><text x="1377" y="415.3">116</text></g>
<g id="n117" class="node"><circle cx="1377" cy="277" r="15"/><text x="1377" y="280.3">117</text></g>
<g id="n118" class="node"><circle cx="1377" cy="493" r="15"/><text x="1377" y="496.3">118</text></g>
<g id="n119" class="node"><circle cx="1377" cy="537" r="15"/><text x="1377" y="540.3">119</text></g>
<g id="n120" class="node"><circle cx="1377" cy="180" r="15"/><text x="1377" y="183.3">120</text></g>
<g id="n121" class="node"><circle cx="1377" cy="233" r="15"/><text x="1377" y="236.3">121</text></g>
<g id="n122" class="node"><circle cx="1377" cy="62" r="15"/><text x="1377" y="65.3">122</text></g>
<g id="n123" class="node"><circle cx="1377" cy="106" r="15"/><text x="1377" y="109.3">123</text></g>
<g id="n124" class="node"><circle cx="1377" cy="19" r="15"/><text x="1377" y="22.3">124</text></g>
<g id="n125" class="node"><circle cx="1377" cy="369" r="15"/><text x="1377" y="372.3">125</text></g>
<g id="n126" class="node"><circle cx="1475" cy="320" r="15"/><text x="1475" y="323.3">126</text></g>
<g id="n127" class="node"><circle cx="1475" cy="369" r="15"/><text x="1475" y="372.3">127</text></g>
<g id="n128" class="node"><circle cx="1475" cy="412" r="15"/><text x="1475" y="415.3">128</text></g>
<g id="n129" class="node"><circle cx="1475" cy="277" r="15"/><text x="1475" y="280.3">129</text></g>
<g id="n130" class="node"><circle cx="1475" cy="493" r="15"/><text x="1475" y="496.3">130</text></g>
<g id="n131" class="node"><circle cx="1475" cy="537" r="15"/><text x="1475" y="540.3">131</text></g>
<g id="n132" class="node"><circle cx="1475" cy="161" r="15"/><text x="1475" y="164.3">132</text></g>
<g id="n133" class="node"><circle cx="1475" cy="233" r="15"/><text x="1475" y="236.3">133</text></g>
<g id="n134" class="node"><circle cx="1475" cy="62" r="15"/><text x="1475" y="65.3">134</text></g>
<g id="n135" class="node"><circle cx="1475" cy="109" r="15"/><text x="1475" y="112.3">135</text></g>
<g id="n136" class="node"><circle cx="1475" cy="19" r="15"/><text x="1475" y="22.3">136</text></g>
<g id="n137" class="node"><circle cx="1572" cy="325" r="15"/><text x="1572" y="328.3">137</text></g>
<g id="n138" class="node"><circle cx="1572" cy="194" r="15"/><text x="1572" y="197.3">138</text></g>
<g id="n139" class="node"><circle cx="1572" cy="369" r="15"/><text x="1572" y="372.3">139</text></g>
<g id="n140" class="node"><circle cx="1572" cy="412" r="15"/><text x="1572" y="415.3">140</text></g>
<g id="n141" class="node"><circle cx="1572" cy="281" r="15"/><text x="1572" y="284.3">141</text></g>
<g id="n142" class="node"><circle cx="1572" cy="499" r="15"/><text x="1572" y="502.3">142</text></g>
<g id="n143" class="node"><circle cx="1572" cy="456" r="15"/><text x="1572" y="459.3">143</text></g>
<g id="n144" class="node"><circle cx="1572" cy="106" r="15"/><text x="1572" y="109.3">144</text></g>
<g id="n145" class="node"><circle cx="1572" cy="238" r="15"/><text x="1572" y="241.3">145</text></g>
<g id="n146" class="node"><circle cx="1572" cy="62" r="15"/><text x="1572" y="65.3">146</text></g>
<g id="n147" class="node"><circle cx="1572" cy="150" r="15"/><text x="1572" y="153.3">147</text></g>
<g id="n148" class="node"><circle cx="1572" cy="19" r="15"/><text x="1572" y="22.3">148</text></g>
<g id="n149" class="node"><circle cx="1665" cy="324" r="15"/><text x="1665" y="327.3">149</text></g>
<g id="n150" class="node"><circle cx="1665" cy="193" r="15"/><text x="1665" y="196.3">150</text></g>
<g id="n151" class="node"><circle cx="1665" cy="368" r="15"/><text x="1665" y="371.3">151</text></g>
<g id="n152" class="node"><circle cx="1665" cy="412" r="15"/><text x="1665" y="415.3">152</text></g>
<g id="n153" class="node"><circle cx="1665" cy="281" r="15"/><text x="1665" y="284.3">153</text></g>
<g id="n154" class="node"><circle cx="1665" cy="499" r="15"/><text x="1665" y="502.3">154</text></g>
<g id="n155" class="node"><circle cx="1665" cy="456" r="15"/><text x="1665" y="459.3">155</text></g>
<g id="n156" class="node"><circle cx="1665" cy="139" r="15"/><text x="1665" y="142.3">156</text></g>
<g id="n157" class="node"><circle cx="1665" cy="237" r="15"/><text x="1665" y="240.3">157</text></g>
<g id="n158" class="node"><circle cx="1665" cy="91" r="15"/><text x="1665" y="94.3">158</text></g>
<g id="n159" class="node"><circle cx="1665" cy="41" r="15"/><text x="1665" y="44.3">159</text></g>
<g id="n160" class="node"><circle cx="1767" cy="149" r="15"/><text x="1767" y="152.3">160</text></g>
<g id="n161" class="node"><circle cx="1767" cy="324" r="15"/><text x="1767" y="327.3">161</text></g>
<g id="n162" class="node"><circle cx="1767" cy="412" r="15"/><text x="1767" y="415.3">162</text></g>
<g id="n163" class="node"><circle cx="1767" cy="193" r="15"/><text x="1767" y="196.3">163</text></g>
<g id="n164" class="node"><circle cx="1767" cy="368" r="15"/><text x="1767" y="371.3">164</text></g>
<g id="n165" class="node"><circle cx="1767" cy="456" r="15"/><text x="1767" y="459.3">165</text></g>
<g id="n166" class="node"><circle cx="1767" cy="281" r="15"/><text x="1767" y="284.3">166</text></g>
<g id="n167" class="node"><circle cx="1767" cy="499" r="15"/><text x="1767" y="502.3">167</text></g>
<g id="n168" class="node"><circle cx="1767" cy="237" r="15"/><text x="1767" y="240.3">168</text></g>
<g id="n169" class="node"><circle cx="1767" cy="99" r="15"/><text x="1767" y="102.3">169</text></g>
<g id="n170" class="node"><circle cx="1767" cy="53" r="15"/><text x="1767" y="56.3">170</text></g>
<g id="n171" class="node"><circle cx="1870" cy="149" r="15"/><text x="1870" y="152.3">171</text></g>
<g id="n172" class="node"><circle cx="1870" cy="324" r="15"/><text x="1870" y="327.3">172</text></g>
<g id="n173" class="node"><circle cx="1870" cy="281" r="15"/><text x="1870" y="284.3">173</text></g>
<g id="n174" class="node"><circle cx="1870" cy="456" r="15"/><text x="1870" y="459.3">174</text></g>
<g id="n175" class="node"><circle cx="1870" cy="193" r="15"/><text x="1870" y="196.3">175</text></g>
<g id="n176" class="node"><circle cx="1870" cy="368" r="15"/><text x="1870" y="371.3">176</text></g>
<g id="n177" class="node"><circle cx="1870" cy="412" r="15"/><text x="1870" y="415.3">177</text></g>
<g id="n178" class="node"><circle cx="1870" cy="237" r="15"/><text x="1870" y="240.3">178</text></g>
<g id="n179" class="node"><circle cx="1870" cy="106" r="15"/><text x="1870" y="109.3">179</text></g>
<g id="n180" class="node"><circle cx="1870" cy="61" r="15"/><text x="1870" y="64.3">180</text></g>
<g id="n181" class="node"><circle cx="1985" cy="147" r="15"/><text x="1985" y="150.3">181</text></g>
<g id="n182" class="node"><circle cx="1985" cy="328" r="15"/><text x="1985" y="331.3">182</text></g>
<g id="n183" class="node"><circle cx="1985" cy="197" r="15"/><text x="1985" y="200.3">183</text></g>
<g id="n184" class="node"><circle cx="1985" cy="284" r="15"/><text x="1985" y="287.3">184</text></g>
<g id="n185" class="node"><circle cx="1985" cy="427" r="15"/><text x="1985" y="430.3">185</text></g>
<g id="n186" class="node"><circle cx="1985" cy="377" r="15"/><text x="1985" y="380.3">186</text></g>
<g id="n187" class="node"><circle cx="1985" cy="239" r="15"/><text x="1985" y="242.3">187</text></g>
<g id="n188" class="node"><circle cx="1985" cy="87" r="15"/><text x="1985" y="90.3">188</text></g>
<g id="n189" class="node"><circle cx="2090" cy="159" r="15"/><text x="2090" y="162.3">189</text></g>
<g id="n190" class="node"><circle cx="2090" cy="290" r="15"/><text x="2090" y="293.3">190</text></g>
<g id="n191" class="node"><circle cx="2090" cy="203" r="15"/><text x="2090" y="206.3">191</text></g>
<g id="n192" class="node"><circle cx="2090" cy="377" r="15"/><text x="2090" y="380.3">192</text></g>
<g id="n193" class="node"><circle cx="2090" cy="333" r="15"/><text x="2090" y="336.3">193</text></g>
<g id="n194" class="node"><circle cx="2090" cy="246" r="15"/><text x="2090" y="249.3">194</text></g>
<g id="n195" class="node"><circle cx="2090" cy="99" r="15"/><text x="2090" y="102.3">195</text></g>
<g id="n196" class="node"><circle cx="2184" cy="188" r="15"/><text x="2184" y="191.3">196</text></g>
<g id="n197" class="node"><circle cx="2184" cy="275" r="15"/><text x="2184" y="278.3">197</text></g>
<g id="n198" class="node"><circle cx="2184" cy="232" r="15"/><text x="2184" y="235.3">198</text></g>
<g id="n199" class="node"><circle cx="2184" cy="369" r="15"/><text x="2184" y="372.3">199</text></g>
<g id="n200" class="node"><circle cx="2184" cy="319" r="15"/><text x="2184" y="322.3">200</text></g>
<g id="n201" class="node"><circle cx="2184" cy="144" r="15"/><text x="2184" y="147.3">201</text></g>
<g id="n202" class="node"><circle cx="2184" cy="100" r="15"/><text x="2184" y="103.3">202</text></g>
<g id="n203" class="node"><circle cx="2278" cy="188" r="15"/><text x="2278" y="191.3">203</text></g>
<g id="n204" class="node"><circle cx="2278" cy="275" r="15"/><text x="2278" y="278.3">204</text></g>
<g id="n205" class="node"><circle cx="2278" cy="337" r="15"/><text x="2278" y="340.3">205</text></g>
<g id="n206" class="node"><circle cx="2278" cy="144" r="15"/><text x="2278" y="147.3">206</text></g>
<g id="n207" class="node"><circle cx="2369" cy="188" r="15"/><text x="2369" y="191.3">207</text></g>
<g id="n208" class="node"><circle cx="2369" cy="275" r="15"/><text x="2369" y="278.3">208</text></g>
<g id="n209" class="node"><circle cx="2460" cy="224" r="15"/><text x="2460" y="227.3">209</text></g>
<g id="n210" class="node"><circle cx="2529" cy="224" r="18"/><circle cx="2529" cy="224" r="15"/><text x="2529" y="227.3">210</text></g>
</g>
</svg>
